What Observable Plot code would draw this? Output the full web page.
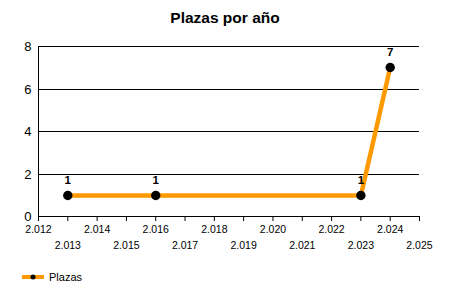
<!DOCTYPE html>
<html>
<head>
<meta charset="utf-8">
<script src="https://cdn.jsdelivr.net/npm/d3@7"></script>
<script src="https://cdn.jsdelivr.net/npm/@observablehq/plot@0.6"></script>
<style>
  body { margin: 0; background: #fff; font-family: "Liberation Sans", Arial, sans-serif; }
  #wrap { width: 450px; height: 300px; position: relative; overflow: hidden; }
  #title { position: absolute; top: 9px; left: 0; width: 450px; text-align: center; font-weight: bold; font-size: 15.5px; color: #000; }
  #chart { position: absolute; top: 30px; left: 0; }
  #legend { position: absolute; top: 270px; left: 22px; display: flex; align-items: center; font-size: 11px; color: #000; }
</style>
</head>
<body>
<div id="wrap">
  <div id="title">Plazas por año</div>
  <div id="chart"></div>
  <div id="legend">
    <svg width="24" height="14" style="margin-right:3px">
      <line x1="0" x2="22" y1="7" y2="7" stroke="#FF9900" stroke-width="4"></line>
      <circle cx="11" cy="7" r="2.5" fill="#000"></circle>
    </svg>
    <span>Plazas</span>
  </div>
</div>
<script>
const years = [2013, 2016, 2023, 2024];
const plazas = [1, 1, 1, 7];
const yTicks = [0, 2, 4, 6, 8];
const xTicksEven = [2012, 2014, 2016, 2018, 2020, 2022, 2024];
const xTicksOdd = [2013, 2015, 2017, 2019, 2021, 2023, 2025];

const data = years.map((y, i) => ({year: y, value: plazas[i]}));
const es = d3.formatLocale({decimal: ",", thousands: ".", grouping: [3], currency: ["", "€"]});
const fmtYear = d => es.format(",d")(d).replace(/^(\d)(\d{3})$/, "$1.$2");

const chart = Plot.plot({
  width: 450,
  height: 230,
  marginLeft: 38,
  marginRight: 31,
  marginTop: 16,
  marginBottom: 44,
  style: {fontFamily: "'Liberation Sans', Arial, sans-serif", color: "#000", background: "#fff"},
  x: {domain: [2012, 2025]},
  y: {domain: [0, 8], round: true},
  marks: [
    Plot.gridY(yTicks, {stroke: "#000", strokeOpacity: 1, strokeWidth: 1}),
    Plot.ruleX([2012], {stroke: "#000"}),
    Plot.ruleY([0], {stroke: "#000"}),
    Plot.axisY(yTicks, {tickSize: 0, tickPadding: 7, fontSize: 13, label: null}),
    Plot.axisX(xTicksEven, {tickSize: 5, tickPadding: 4, fontSize: 10.5, tickFormat: fmtYear, label: null}),
    Plot.axisX(xTicksOdd, {tickSize: 5, tickPadding: 20, fontSize: 10.5, tickFormat: fmtYear, label: null}),
    Plot.line(data, {x: "year", y: "value", stroke: "#FF9900", strokeWidth: 4.5}),
    Plot.dot(data, {x: "year", y: "value", r: 4.7, fill: "#000", stroke: null}),
    Plot.text(data, {x: "year", y: "value", text: d => String(d.value), dy: -15, fontWeight: "bold", fontSize: 11.5, fill: "#000"})
  ]
});
document.getElementById("chart").appendChild(chart);
</script>
</body>
</html>
